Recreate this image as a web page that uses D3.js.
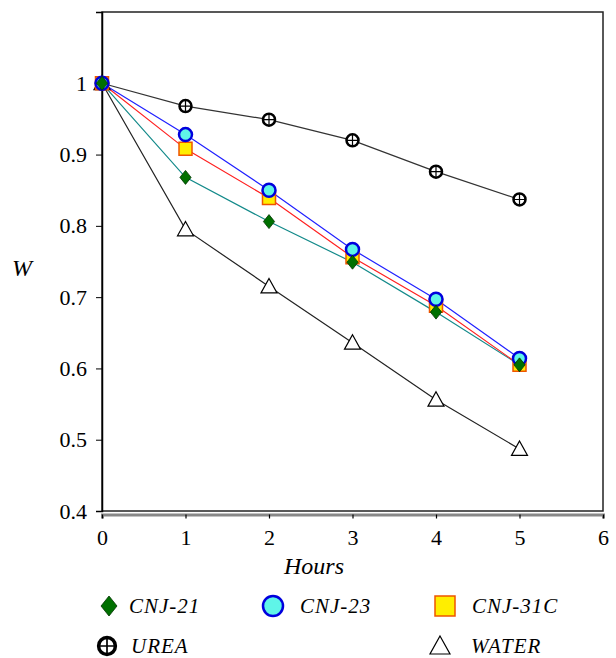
<!DOCTYPE html>
<html lang="en">
<head>
  <meta charset="UTF-8">
  <title>W vs Hours</title>
  <style>
    body { margin: 0; background: #fff; }
  </style>
</head>
<body>
<script src="https://d3js.org/d3.v7.min.js"></script>
<script>
  // data
  const hours = [0, 1, 2, 3, 4, 5];
  const cnj21 = [1.0, 0.868, 0.806, 0.749, 0.679, 0.605];
  const cnj23 = [1.0, 0.928, 0.850, 0.767, 0.697, 0.614];
  const cnj31c = [1.0, 0.908, 0.839, 0.756, 0.688, 0.605];
  const urea = [1.0, 0.968, 0.949, 0.920, 0.876, 0.837];
  const water = [1.0, 0.795, 0.715, 0.636, 0.556, 0.487];
  const xTicks = [0, 1, 2, 3, 4, 5, 6];
  const yTicks = [0.4, 0.5, 0.6, 0.7, 0.8, 0.9, 1, 1.1];
  const yLabels = ["0.4", "0.5", "0.6", "0.7", "0.8", "0.9", "1", ""];

  const FONT = "Liberation Serif, Times New Roman, Times, Tinos, serif";

  const svg = d3.select("body").append("svg")
          .attr("width", 616)
          .attr("height", 658)
          .attr("font-family", FONT);

  const x = d3.scaleLinear().domain([0, 6]).range([102, 603]);
  const y = d3.scaleLinear().domain([0.4, 1.1]).range([511, 12]);

  // plot frame
  svg.append("rect")
          .attr("x", 102).attr("y", 12)
          .attr("width", 501).attr("height", 499)
          .attr("fill", "none")
          .attr("stroke", "#222")
          .attr("stroke-width", 1.5);

  // y axis
  const yAxis = svg.append("g")
          .attr("transform", "translate(102,0)")
          .call(d3.axisLeft(y).tickValues(yTicks).tickSize(6).tickPadding(9)
                  .tickFormat((d, i) => yLabels[i]));
  yAxis.attr("font-family", FONT).attr("font-size", 22);
  yAxis.select(".domain").attr("stroke", "#000").attr("stroke-width", 1.5);
  yAxis.selectAll("text").attr("fill", "#000");

  // x axis (grey base line with ticks under the frame)
  const xAxis = svg.append("g")
          .attr("transform", "translate(0,514.5)")
          .call(d3.axisBottom(x).tickValues(xTicks).tickSize(4).tickSizeOuter(4).tickPadding(11)
                  .tickFormat(d3.format("d")));
  xAxis.attr("font-family", FONT).attr("font-size", 22);
  xAxis.select(".domain").attr("stroke", "#888").attr("stroke-width", 3);
  xAxis.selectAll("line").attr("stroke", "#000").attr("stroke-width", 1.2);
  xAxis.selectAll("text").attr("fill", "#000");

  svg.append("text")
          .attr("x", 314).attr("y", 574)
          .attr("text-anchor", "middle")
          .attr("font-size", 24).attr("font-style", "italic")
          .text("Hours");

  svg.append("text")
          .attr("x", 22).attr("y", 276)
          .attr("text-anchor", "middle")
          .attr("font-size", 24).attr("font-style", "italic")
          .text("W");

  // marker shapes
  const sym = {
    diamond: s => `M0,${-s}L${s * 0.8},0L0,${s}L${-s * 0.8},0Z`,
    square: s => `M${-s},${-s}H${s}V${s}H${-s}Z`,
    triangle: s => `M0,${-s}L${s},${s * 0.8}H${-s}Z`
  };

  function marker(g, type) {
    if (type === "diamond") {
      g.append("path").attr("d", sym.diamond(7))
              .attr("fill", "#007000").attr("stroke", "#003300").attr("stroke-width", 0.8);
    } else if (type === "circle") {
      g.append("circle").attr("r", 6.5)
              .attr("fill", "#5ff5e8").attr("stroke", "#0000dd").attr("stroke-width", 2.5);
    } else if (type === "square") {
      g.append("path").attr("d", sym.square(6.5))
              .attr("fill", "#ffee00").attr("stroke", "#ee5500").attr("stroke-width", 1.5);
    } else if (type === "urea") {
      g.append("circle").attr("r", 6)
              .attr("fill", "#fff").attr("stroke", "#000").attr("stroke-width", 2.5);
      g.append("path").attr("d", "M-6,0H6M0,-6V6")
              .attr("stroke", "#000").attr("stroke-width", 1.2);
    } else if (type === "triangle") {
      g.append("path").attr("d", sym.triangle(8))
              .attr("fill", "#fff").attr("stroke", "#000").attr("stroke-width", 1.2);
    }
  }

  const series = [
    {name: "UREA", values: urea, color: "#333", type: "urea"},
    {name: "WATER", values: water, color: "#222", type: "triangle"},
    {name: "CNJ-21", values: cnj21, color: "#138a8a", type: "diamond"},
    {name: "CNJ-31C", values: cnj31c, color: "#ff2020", type: "square"},
    {name: "CNJ-23", values: cnj23, color: "#2020ff", type: "circle"}
  ];

  const line = d3.line().x((d, i) => x(hours[i])).y(d => y(d));

  series.forEach(s => {
    svg.append("path")
            .datum(s.values)
            .attr("d", line)
            .attr("fill", "none")
            .attr("stroke", s.color)
            .attr("stroke-width", 1.2);
  });

  // markers: square under circle under diamond
  const markerOrder = ["UREA", "WATER", "CNJ-31C", "CNJ-23", "CNJ-21"];
  markerOrder.forEach(n => {
    const s = series.find(d => d.name === n);
    s.values.forEach((v, i) => {
      const g = svg.append("g").attr("transform", `translate(${x(hours[i])},${y(v)})`);
      marker(g, s.type);
    });
  });

  // legend
  const legend = [
    {name: "CNJ-21", type: "diamond", mx: 109, my: 606, tx: 129},
    {name: "CNJ-23", type: "circle", mx: 273, my: 606, tx: 300},
    {name: "CNJ-31C", type: "square", mx: 445, my: 606, tx: 472},
    {name: "UREA", type: "urea", mx: 107, my: 646, tx: 131},
    {name: "WATER", type: "triangle", mx: 440, my: 646, tx: 471}
  ];
  legend.forEach(l => {
    const g = svg.append("g").attr("transform", `translate(${l.mx},${l.my})`);
    if (l.type === "circle") {
      g.append("circle").attr("r", 10)
              .attr("fill", "#5ff5e8").attr("stroke", "#0000dd").attr("stroke-width", 2.5);
    } else if (l.type === "square") {
      g.append("path").attr("d", sym.square(10))
              .attr("fill", "#ffee00").attr("stroke", "#ee5500").attr("stroke-width", 1.5);
    } else if (l.type === "diamond") {
      g.append("path").attr("d", sym.diamond(10))
              .attr("fill", "#007000").attr("stroke", "#003300").attr("stroke-width", 0.8);
    } else if (l.type === "triangle") {
      g.append("path").attr("d", sym.triangle(10))
              .attr("fill", "#fff").attr("stroke", "#000").attr("stroke-width", 1.2);
    } else {
      marker(g, l.type);
      g.attr("transform", `translate(${l.mx},${l.my}) scale(1.4)`);
    }
    svg.append("text")
            .attr("x", l.tx).attr("y", l.my + 7)
            .attr("font-size", 21).attr("font-style", "italic")
            .attr("letter-spacing", 1)
            .text(l.name);
  });
</script>
</body>
</html>
